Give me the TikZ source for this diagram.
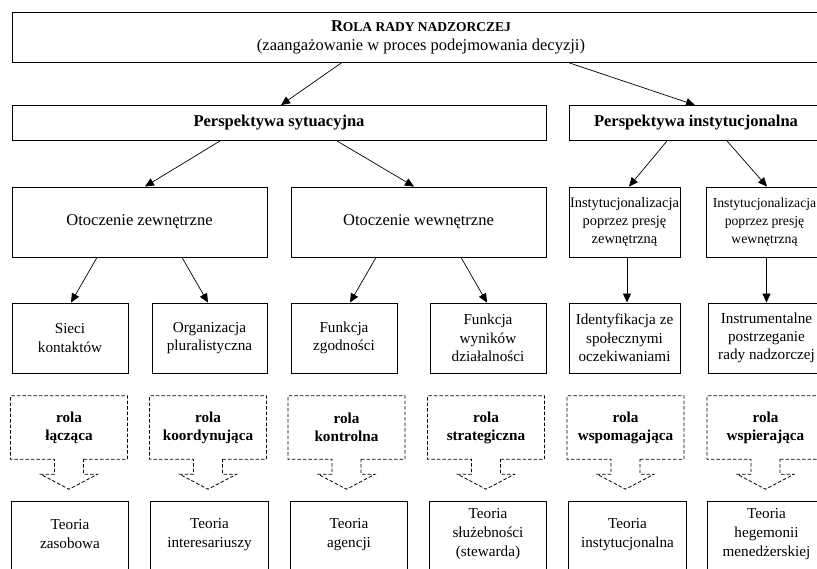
\documentclass[tikz,border=0pt]{standalone}
\usepackage{fontspec}
\setmainfont{Liberation Serif}
\usetikzlibrary{arrows.meta,calc}
\tikzset{
  nbox/.style={draw, line width=0.9pt, inner sep=0pt, align=center},
  obox/.style={inner sep=0pt, align=center},
  fbig/.style={font=\fontsize{16.5}{19}\selectfont},
  fmid/.style={font=\fontsize{15.2}{18.3}\selectfont},
  finst/.style={font=\fontsize{14.4}{18}\selectfont},
  fbot/.style={font=\fontsize{15.2}{19}\selectfont},
  rbox/.style={inner sep=0pt, align=center, minimum width=116.5pt, minimum height=63pt,
    font=\fontsize{15.2}{18}\selectfont\bfseries},
  arr/.style={-{Triangle[length=9pt,width=8pt]}, line width=0.7pt},
  calldash/.style={line width=0.8pt, dash pattern=on 3.5pt off 2pt},
  sidebox/.style={line width=0.9pt}
}
\begin{document}
\begin{tikzpicture}[x=1pt,y=-1pt]
\useasboundingbox (0,0) rectangle (817,568);
\fill[white] (0,0) rectangle (817,568);

% level 0
\node[nbox, fbig, minimum width=818pt, minimum height=50pt] (top) at (421,37)
  {\bfseries R{\fontsize{13.5}{19}\selectfont OLA RADY NADZORCZEJ}\\(zaangażowanie w proces podejmowania decyzji)};

% level 1
\node[nbox, fbig, minimum width=534pt, minimum height=35pt] (ps) at (279,123) {\bfseries Perspektywa sytuacyjna};
\node[nbox, fbig, minimum width=254pt, minimum height=35pt] (pi) at (696,123) {\bfseries Perspektywa instytucjonalna};

% level 2
\node[nbox, fbig, minimum width=255pt, minimum height=70pt] (oz) at (139.5,222) {Otoczenie zewnętrzne};
\node[nbox, fbig, minimum width=255pt, minimum height=70pt] (ow) at (418.5,222) {Otoczenie wewnętrzne};
\node[nbox, finst, minimum width=111pt, minimum height=70pt] (iz) at (624.5,222) {Instytucjonalizacja\\poprzez presję\\zewnętrzną};
\node[nbox, font=\fontsize{13.7}{18}\selectfont, minimum width=116pt, minimum height=70pt] (iw) at (764.5,222) {Instytucjonalizacja\\poprzez presję\\wewnętrzną};

% level 3
\node[nbox, fmid, minimum width=116pt, minimum height=70pt] (sk) at (70,338) {Sieci\\kontaktów};
\node[nbox, fmid, minimum width=115pt, minimum height=70pt] (op) at (209.5,338) {Organizacja\\pluralistyczna};
\node[nbox, fmid, minimum width=106pt, minimum height=70pt] (fz) at (344,338) {Funkcja\\zgodności};
\node[nbox, fmid, minimum width=116pt, minimum height=70pt] (fw) at (488,338) {Funkcja\\wyników\\działalności};
\node[nbox, fmid, minimum width=111pt, minimum height=70pt] (id) at (624.5,338) {Identyfikacja ze\\społecznymi\\oczekiwaniami};
\node[nbox, fmid, minimum width=117pt, minimum height=70pt] (in) at (766.5,338) {Instrumentalne\\postrzeganie\\rady nadzorczej};

% roles
\node[rbox] (r1) at (69,427.5) {rola\\łącząca};
\node[rbox] (r2) at (208,427.5) {rola\\koordynująca};
\node[rbox] (r3) at (346.5,427.5) {rola\\kontrolna};
\node[rbox] (r4) at (486,427.5) {rola\\strategiczna};
\node[rbox] (r5) at (625.5,427.5) {rola\\wspomagająca};
\node[rbox] (r6) at (765.5,427.5) {rola\\wspierająca};
\foreach \r in {r1,r2,r3,r4,r5,r6}{
  \draw[calldash] ([xshift=14.5pt]\r.south) -- (\r.south east) -- (\r.north east)
    -- (\r.north west) -- (\r.south west) -- ([xshift=-14.5pt]\r.south)
    -- ++(0,15) -- ++(-14,0) -- ++(28.5,15) -- ++(28.5,-15) -- ++(-14,0) -- cycle;
}

% theories (bottom edge outside the picture)
\node[obox, fbot, minimum width=116pt, minimum height=65pt] (t1) at (70,534.5) {Teoria\\zasobowa};
\node[obox, fbot, minimum width=117pt, minimum height=65pt] (t2) at (209.5,534.5) {Teoria\\interesariuszy};
\node[obox, fbot, minimum width=116pt, minimum height=65pt] (t3) at (349,534.5) {Teoria\\agencji};
\node[obox, fbot, minimum width=116pt, minimum height=65pt] (t4) at (488,534.5) {Teoria\\służebności\\(stewarda)};
\node[obox, fbot, minimum width=117pt, minimum height=65pt] (t5) at (627.5,534.5) {Teoria\\instytucjonalna};
\node[obox, fbot, minimum width=117pt, minimum height=65pt] (t6) at (766.5,534.5) {Teoria\\hegemonii\\menedżerskiej};
\foreach \t in {t1,t2,t3,t4,t5,t6}{
  \draw[sidebox] ([yshift=-4pt]\t.south west) |- (\t.north east) -- ([yshift=-4pt]\t.south east);
}

% connectors
\draw[arr] ([xshift=-79pt]top.south) -- ([xshift=2pt]ps.north);
\draw[arr] ([xshift=147pt]top.south) -- ([xshift=-1pt]pi.north);
\draw[arr] ([xshift=-59pt]ps.south) -- ([xshift=5.5pt]oz.north);
\draw[arr] ([xshift=58pt]ps.south) -- ([xshift=-4.5pt]ow.north);
\draw[arr] ([xshift=-29pt]pi.south) -- ([xshift=4.5pt]iz.north);
\draw[arr] ([xshift=31pt]pi.south) -- ([xshift=2.5pt]iw.north);
\draw[arr] ([xshift=-42.5pt]oz.south) -- ([xshift=1pt]sk.north);
\draw[arr] ([xshift=42.5pt]oz.south) -- ([xshift=-1.5pt]op.north);
\draw[arr] ([xshift=-42.5pt]ow.south) -- ([xshift=6pt]fz.north);
\draw[arr] ([xshift=42.5pt]ow.south) -- ([xshift=-1pt]fw.north);
\draw[arr] ([xshift=2.5pt]iz.south) -- ([xshift=2.5pt]id.north);
\draw[arr] ([xshift=2pt]iw.south) -- (in.north);
\end{tikzpicture}
\end{document}
